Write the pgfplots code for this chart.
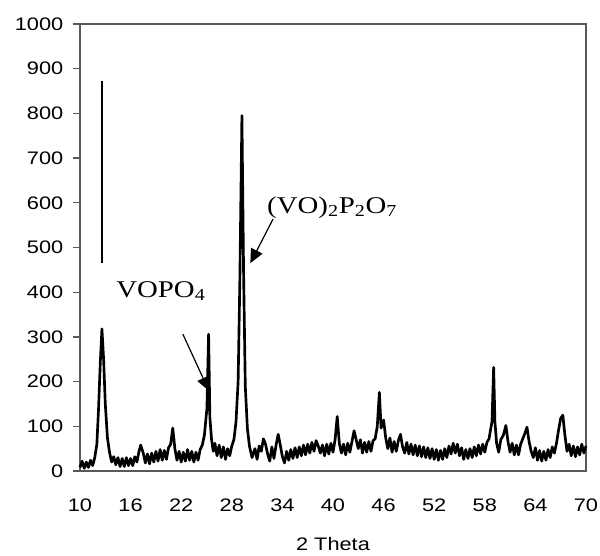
\documentclass[border=0pt]{standalone}
\usepackage{fontspec}
\setmainfont{Liberation Sans}[FakeStretch=1.2]
\newfontfamily\timesf{Liberation Serif}[FakeStretch=1.2]
\usepackage{pgfplots}
\pgfplotsset{compat=1.18}
\usetikzlibrary{arrows.meta}

\begin{document}
\begin{tikzpicture}
\begin{axis}[
    scale only axis,
    width=379.5pt, height=335.25pt,
    xmin=10, xmax=70, ymin=0, ymax=1000,
    xtick={10,16,...,70},
    ytick={0,100,...,1000},
    ytick pos=left, xtick pos=bottom,
    tick align=outside,
    y tick style={black!65, line width=1pt},
    major tick length=5.25pt,
    x tick style={draw=none},
    axis line style={black!65, line width=1.3pt},
    /pgf/number format/assume math mode=true,
    /pgf/number format/1000 sep={},
    ticklabel style={font=\fontsize{13.6}{16}\selectfont},
    xticklabel style={yshift=-12pt},
    yticklabel style={xshift=-3.75pt},
    xlabel={2 Theta},
    xlabel style={font=\fontsize{13.6}{16}\selectfont, at={(axis description cs:0.5,0)}, anchor=north, yshift=-46pt},
    clip=false,
]
\addplot[black, line width=2pt, line join=round] coordinates {
(10.00,8)(10.25,22)(10.50,6)(10.75,20)(11.00,8)(11.25,24)(11.50,12)(11.75,30)
(12.00,60)(12.20,140)(12.40,240)(12.60,318)(12.80,250)(13.00,150)(13.25,75)(13.50,42)
(13.75,20)(14.00,32)(14.25,14)(14.50,30)(14.75,10)(15.00,28)(15.25,10)(15.50,30)
(15.75,12)(16.00,28)(16.25,12)(16.50,32)(16.75,20)(17.00,44)(17.20,58)(17.50,40)
(17.75,18)(18.00,38)(18.25,16)(18.50,40)(18.75,20)(19.00,44)(19.25,22)(19.50,48)
(19.75,24)(20.00,46)(20.25,26)(20.50,52)(20.75,60)(21.00,96)(21.25,50)(21.50,24)
(21.75,44)(22.00,20)(22.25,42)(22.50,22)(22.75,48)(23.00,24)(23.25,44)(23.50,20)
(23.75,42)(24.00,24)(24.25,48)(24.50,58)(24.75,80)(25.05,140)(25.25,306)(25.40,120)
(25.60,70)(25.80,44)(26.00,62)(26.25,34)(26.50,58)(26.75,30)(27.00,54)(27.25,26)
(27.50,50)(27.75,34)(28.00,56)(28.25,70)(28.50,110)(28.75,200)(28.95,420)(29.20,795)
(29.40,440)(29.60,190)(29.85,95)(30.10,55)(30.40,30)(30.75,50)(31.00,26)(31.25,56)
(31.50,44)(31.75,72)(32.00,60)(32.25,38)(32.50,22)(32.75,54)(33.00,28)(33.25,58)
(33.50,82)(33.75,58)(34.00,32)(34.25,18)(34.50,44)(34.75,24)(35.00,48)(35.25,28)
(35.50,52)(35.75,30)(36.00,54)(36.25,34)(36.50,58)(36.75,36)(37.00,60)(37.25,40)
(37.50,64)(37.75,44)(38.00,68)(38.25,56)(38.50,40)(38.75,58)(39.00,34)(39.25,60)
(39.50,38)(39.75,62)(40.00,42)(40.25,70)(40.50,122)(40.75,62)(41.00,40)(41.25,60)
(41.50,36)(41.75,62)(42.00,42)(42.25,66)(42.50,90)(42.75,70)(43.00,50)(43.25,70)
(43.50,40)(43.75,64)(44.00,42)(44.25,66)(44.50,44)(44.75,68)(45.00,72)(45.25,100)
(45.50,176)(45.70,96)(46.00,114)(46.25,74)(46.50,50)(46.75,74)(47.00,42)(47.25,66)
(47.50,44)(47.75,68)(48.00,82)(48.25,54)(48.50,40)(48.75,64)(49.00,38)(49.25,60)
(49.50,36)(49.75,58)(50.00,34)(50.25,56)(50.50,32)(50.75,54)(51.00,30)(51.25,52)
(51.50,28)(51.75,50)(52.00,26)(52.25,48)(52.50,24)(52.75,46)(53.00,26)(53.25,50)
(53.50,30)(53.75,56)(54.00,38)(54.25,62)(54.50,40)(54.75,60)(55.00,34)(55.25,52)
(55.50,26)(55.75,48)(56.00,28)(56.25,50)(56.50,30)(56.75,54)(57.00,34)(57.25,58)
(57.50,38)(57.75,60)(58.00,42)(58.25,64)(58.50,72)(58.85,110)(59.05,232)(59.20,110)
(59.40,62)(59.65,42)(59.90,70)(60.20,80)(60.50,102)(60.75,66)(61.00,42)(61.25,62)
(61.50,36)(61.75,58)(62.00,36)(62.25,60)(62.50,72)(62.75,84)(63.00,98)(63.25,66)
(63.50,44)(63.75,30)(64.00,52)(64.25,24)(64.50,46)(64.75,22)(65.00,44)(65.25,24)
(65.50,48)(65.75,30)(66.00,54)(66.25,40)(66.50,62)(66.75,92)(67.00,118)(67.25,125)
(67.50,80)(67.75,44)(68.00,60)(68.25,34)(68.50,56)(68.75,32)(69.00,54)(69.25,36)
(69.50,60)(69.75,40)(70.00,56)
};
\addplot[black, line width=1.8pt] coordinates {(12.6,465)(12.6,872)};
\node[font=\timesf\fontsize{18}{20}\selectfont] at (axis cs:19.6,403) {VOPO\textsubscript{4}};
\node[font=\timesf\fontsize{18}{20}\selectfont] at (axis cs:39.9,590) {(VO)\textsubscript{2}P\textsubscript{2}O\textsubscript{7}};
\draw[line width=0.9pt, -{Triangle[length=10.5pt, width=9.5pt]}] (axis cs:22.2,306) -- (axis cs:25.3,179);
\draw[line width=0.9pt, -{Triangle[length=10.5pt, width=9.5pt]}] (axis cs:32.9,564) -- (axis cs:30.2,465);
\end{axis}
\pgfresetboundingbox
\path[use as bounding box] (-60pt,-63.75pt) rectangle (390pt,353.25pt);
\end{tikzpicture}
\end{document}
